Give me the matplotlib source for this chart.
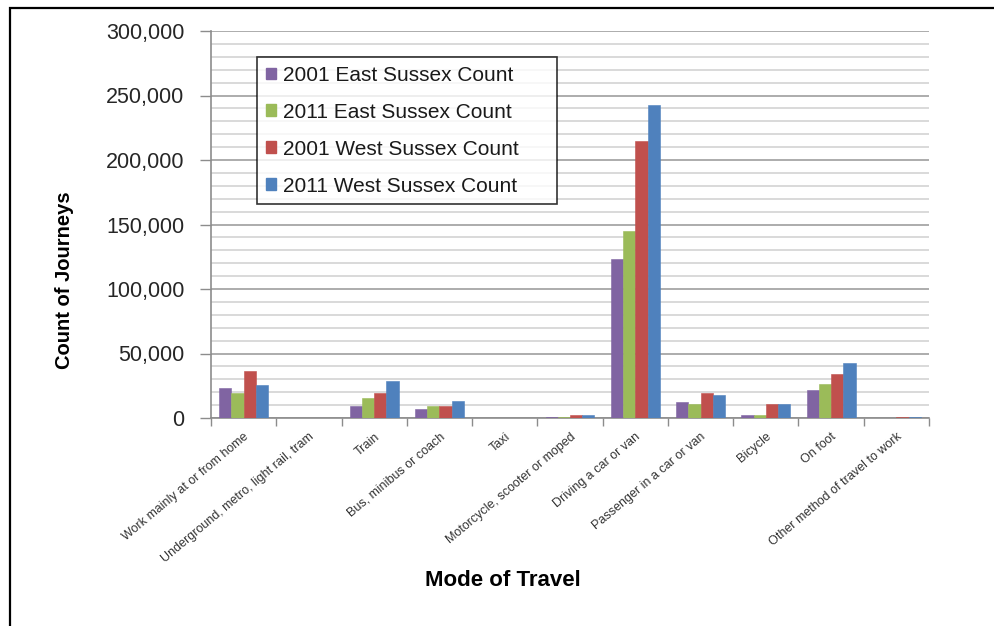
import matplotlib
matplotlib.use("Agg")
import matplotlib.pyplot as plt
import numpy as np
from matplotlib.patches import Rectangle, Patch
from matplotlib.ticker import FuncFormatter, MultipleLocator

plt.rcParams['font.family'] = ['Liberation Sans', 'DejaVu Sans']

modes = ["Work mainly at or from home", "Underground, metro, light rail, tram",
         "Train", "Bus, minibus or coach", "Taxi", "Motorcycle, scooter or moped",
         "Driving a car or van", "Passenger in a car or van", "Bicycle",
         "On foot", "Other method of travel to work"]

es_2001 = [23000, 0, 9300, 7000, 0, 1100, 123000, 12200, 2300, 22000, 0]
es_2011 = [19000, 0, 15800, 9300, 0, 1100, 145000, 10900, 2300, 26700, 0]
ws_2001 = [36500, 0, 19400, 9300, 0, 2300, 214500, 19400, 10900, 34200, 1100]
ws_2011 = [25500, 0, 28800, 13200, 0, 2300, 242500, 18200, 10900, 42800, 1100]

series = [("2001 East Sussex Count", es_2001, "#8064A2"),
          ("2011 East Sussex Count", es_2011, "#9BBB59"),
          ("2001 West Sussex Count", ws_2001, "#C0504D"),
          ("2011 West Sussex Count", ws_2011, "#4F81BD")]

fig = plt.figure(figsize=(9.95, 6.26), dpi=100)
ax = fig.add_axes([211 / 995, 1 - 418 / 626, 718 / 995, 387 / 626])

# outer frame of the chart area
fig.patches.append(Rectangle((10 / 995, -0.1), 1.2, 1 - 8 / 626 + 0.1,
                             transform=fig.transFigure, fill=False,
                             edgecolor="black", linewidth=1.6))

x = np.arange(len(modes))
w = 0.1875
for i, (name, vals, col) in enumerate(series):
    ax.bar(x + (i - 1.5) * w, vals, width=w, color=col, label=name,
           edgecolor=col, linewidth=0.4, zorder=3)

ax.set_xlim(-0.5, len(modes) - 0.5)
ax.set_ylim(0, 300000)

ax.yaxis.set_major_locator(MultipleLocator(50000))
ax.yaxis.set_minor_locator(MultipleLocator(10000))
ax.yaxis.set_major_formatter(FuncFormatter(lambda v, p: f"{int(v):,}"))
ax.grid(axis="y", which="major", color="#a6a6a6", linewidth=1.3, zorder=0)
ax.grid(axis="y", which="minor", color="#d0d0d0", linewidth=1.1, zorder=0)
ax.tick_params(axis="y", which="major", length=8, width=1, color="#8c8c8c",
               labelsize=15.5, pad=11, labelcolor="#262626")
ax.tick_params(axis="y", which="minor", length=0)

# category boundary ticks, labels at centres
ax.set_xticks(np.arange(len(modes) + 1) - 0.5)
ax.set_xticklabels([])
ax.tick_params(axis="x", which="major", length=6, width=1, color="#8c8c8c")
ax.set_xticks(x, minor=True)
ax.set_xticklabels(modes, minor=True, rotation=40, ha="right", va="top",
                   rotation_mode="anchor", fontsize=9, color="#333333")
ax.tick_params(axis="x", which="minor", length=0, pad=9)

for s in ["top", "right"]:
    ax.spines[s].set_visible(False)
for s in ["left", "bottom"]:
    ax.spines[s].set_color("#8c8c8c")
    ax.spines[s].set_linewidth(1.2)

handles = [Patch(facecolor=c, edgecolor=c) for _, _, c in series]
leg = ax.legend(handles, [n for n, _, _ in series], loc="upper left",
                bbox_to_anchor=((257 - 211) / 718, (418 - 61) / 387,
                                300 / 718, 0.01),
                mode="expand", fontsize=15, frameon=True, fancybox=False,
                handlelength=0.5, handleheight=0.5, handletextpad=0.35,
                labelspacing=0.86, borderpad=0.42, borderaxespad=0)
leg.get_frame().set_edgecolor("black")
leg.get_frame().set_linewidth(1.2)
for t in leg.get_texts():
    t.set_color("#1a1a1a")

fig.text(65 / 995, 1 - 280 / 626, "Count of Journeys", rotation=90,
         ha="center", va="center", fontsize=14.5, fontweight="bold")
fig.text(503 / 995, 1 - 580 / 626, "Mode of Travel", ha="center",
         va="center", fontsize=16, fontweight="bold")

fig.savefig("out.png", dpi=100)
